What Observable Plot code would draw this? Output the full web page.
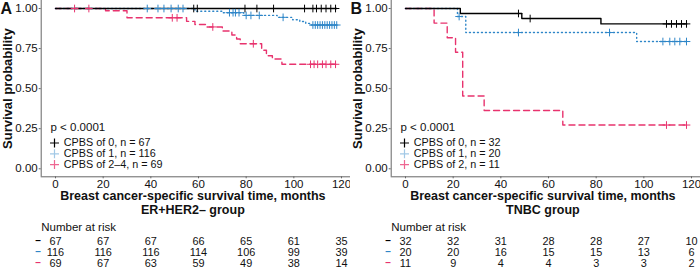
<!DOCTYPE html>
<html><head><meta charset="utf-8">
<script src="https://cdn.jsdelivr.net/npm/d3@7"></script>
<script src="https://cdn.jsdelivr.net/npm/@observablehq/plot@0.6"></script>
<style>
body{margin:0;background:#fff;font-family:"Liberation Sans",Arial,sans-serif;}
#wrap{display:flex;width:700px;height:268px;overflow:hidden;background:#fff}
.panel{width:350px;flex:0 0 350px}
.panel svg{display:block}
</style></head><body><div id="wrap"></div>
<script>
// ---- shared ticks ----
const xTicks = [0, 20, 40, 60, 80, 100, 120];
const yTicks = [0, 0.25, 0.5, 0.75, 1];
const riskTimes = [0, 20, 40, 60, 80, 100, 120];
const colors = ["#000000", "#2E86C8", "#E8336E"];
const dashes = [null, "1,3", "6,4"];

// ---- Panel A : ER+HER2- group ----
const labelsA = ["CPBS of 0, n = 67", "CPBS of 1, n = 116", "CPBS of 2–4, n = 69"];
const timeA0 = [0, 118];
const survA0 = [1, 1];
const censA0 = [58, 59.5, 79.5, 84.5, 91.5, 104.5, 108, 109.5, 111.5, 113.5, 115.5, 117.5];
const timeA1 = [0, 58.5, 70, 79, 93, 99.5, 102.5, 105, 107, 118];
const survA1 = [1, 0.983, 0.974, 0.957, 0.945, 0.93, 0.919, 0.907, 0.897, 0.897];
const censA1 = [38.5, 43, 45.5, 48.5, 51.5, 53.5, 73, 74.5, 75.5, 77, 80, 82, 85.5, 95.5, 108, 109, 110, 111, 112, 113, 114, 115, 116, 117, 118];
const timeA2 = [0, 21, 30, 55, 58.5, 63, 70, 74, 76, 77.5, 86.5, 88.5, 91, 95, 118];
const survA2 = [1, 0.986, 0.942, 0.92, 0.9, 0.885, 0.86, 0.835, 0.81, 0.78, 0.74, 0.705, 0.685, 0.652, 0.652];
const censA2 = [8, 14, 49, 51, 66, 83, 107, 108.5, 110, 112, 113.5, 115.5, 117.5];
const riskA0 = [67, 67, 67, 66, 65, 61, 35];
const riskA1 = [116, 116, 116, 114, 106, 99, 39];
const riskA2 = [69, 67, 63, 59, 49, 38, 14];

// ---- Panel B : TNBC group ----
const labelsB = ["CPBS of 0, n = 32", "CPBS of 1, n = 20", "CPBS of 2, n = 11"];
const timeB0 = [0, 23, 48.8, 82, 118];
const survB0 = [1, 0.969, 0.9375, 0.904, 0.904];
const censB0 = [47.4, 52.3, 109.5, 111.6, 113.7, 115.8, 117.9];
const timeB1 = [0, 21.8, 25.3, 97, 118];
const survB1 = [1, 0.95, 0.85, 0.794, 0.794];
const censB1 = [22.5, 47.4, 85.6, 108, 110.9, 113, 115.1, 117.9];
const timeB2 = [0, 12, 17.5, 21, 24, 33, 66, 118];
const survB2 = [1, 0.909, 0.818, 0.727, 0.4545, 0.364, 0.273, 0.273];
const censB2 = [109.5, 117.9];
const riskB0 = [32, 32, 31, 28, 28, 27, 10];
const riskB1 = [20, 20, 16, 15, 15, 13, 6];
const riskB2 = [11, 9, 4, 4, 3, 3, 2];

const xDomain = [-6, 126];
const xRange = [40.7, 355.3];
const yDomain = [-0.05, 1.05];
const FS = 11.5;
const LFS = 10.8;

function stepAt(times, surv, t) {
  let s = surv[0];
  for (let i = 0; i < times.length; i++) if (times[i] <= t) s = surv[i];
  return s;
}

function kmPlot(p) {
  const marks = [];
  const yMid = (yDomain[0] + yDomain[1]) / 2;
  marks.push(Plot.ruleX([xDomain[0]], {stroke: "#666", strokeWidth: 1}));
  marks.push(Plot.ruleY([yDomain[0]], {stroke: "#666", strokeWidth: 1}));
  marks.push(Plot.axisY(yTicks, {tickFormat: d3.format(".2f"), tickSize: 2, tickPadding: 1.5, stroke: "#666", fill: "#111", fontSize: FS, label: null}));
  marks.push(Plot.axisX(xTicks, {tickSize: 2, tickPadding: 1, stroke: "#666", fill: "#111", fontSize: FS, label: null}));
  for (let k = 2; k >= 0; k--) {
    const s = p.series[k];
    const pts = s.times.map((t, i) => ({t, s: s.surv[i]}));
    marks.push(Plot.line(pts, {x: "t", y: "s", curve: "step-after", stroke: colors[k], strokeWidth: 1.4, strokeDasharray: dashes[k]}));
  }
  for (let k = 2; k >= 0; k--) {
    const s = p.series[k];
    const c = s.cens.map(t => ({t, s: stepAt(s.times, s.surv, t)}));
    marks.push(Plot.dot(c, {x: "t", y: "s", symbol: "plus", r: 2.6, stroke: colors[k], strokeWidth: 1}));
  }
  // p value & legend
  marks.push(Plot.text([p.pval], {frameAnchor: "bottom-left", dx: 9.3, dy: -49.3, textAnchor: "start", lineAnchor: "middle", fontSize: FS, fill: "#111"}));
  p.labels.forEach((lab, k) => {
    const dy = -33.8 + 10.8 * k;
    marks.push(Plot.dot([lab], {frameAnchor: "bottom-left", dx: 13.3, dy, symbol: "plus", r: 3, stroke: colors[k], strokeOpacity: k === 1 ? 0.45 : (k === 2 ? 0.75 : 1), strokeWidth: 1.2}));
    marks.push(Plot.text([lab], {frameAnchor: "bottom-left", dx: 22.6, dy, textAnchor: "start", lineAnchor: "middle", fontSize: LFS, fill: "#111"}));
  });
  // titles
  marks.push(Plot.text(["Breast cancer-specific survival time, months"], {frameAnchor: "bottom", dx: -3, dy: 19.3, lineAnchor: "middle", fontSize: 12.5, fontWeight: "bold"}));
  marks.push(Plot.text([p.group], {frameAnchor: "bottom", dx: -3, dy: 32.9, lineAnchor: "middle", fontSize: 12.5, fontWeight: "bold"}));
  marks.push(Plot.text(["Survival probability"], {x: () => xDomain[0], y: () => yMid, dx: -33, rotate: -90, textAnchor: "middle", lineAnchor: "middle", fontSize: 13, fontWeight: "bold"}));
  marks.push(Plot.text([p.letter], {x: () => xDomain[0], y: () => yDomain[1], dx: -40.7, dy: 2.5, textAnchor: "start", lineAnchor: "top", fontSize: 16, fontWeight: "bold"}));
  return Plot.plot({
    width: 350, height: 219,
    marginLeft: 40.7, marginRight: 0, marginTop: 0, marginBottom: 42.7,
    style: {fontFamily: "'Liberation Sans', Arial, sans-serif", fontSize: FS + "px", color: "#111", background: "#fff"},
    x: {domain: xDomain, range: xRange},
    y: {domain: yDomain},
    marks
  });
}

function riskPlot(p) {
  const rows = [];
  p.risk.forEach((arr, k) => arr.forEach((n, j) => rows.push({t: riskTimes[j], row: String(k), n})));
  const marks = [];
  marks.push(Plot.text(rows, {x: "t", y: "row", text: d => String(d.n), fontSize: 10.9, fill: "#111", lineAnchor: "middle"}));
  p.risk.forEach((arr, k) => {
    marks.push(Plot.text([String(k)], {y: d => d, frameAnchor: "left", dx: -6, text: () => "–", fill: colors[k], fontSize: 10, fontWeight: "bold", lineAnchor: "middle"}));
  });
  marks.push(Plot.text(["Number at risk"], {frameAnchor: "top-left", dy: -8.5, textAnchor: "start", lineAnchor: "middle", fontSize: FS, fill: "#111"}));
  return Plot.plot({
    width: 350, height: 49,
    marginLeft: 40.7, marginRight: 0, marginTop: 16, marginBottom: 0,
    style: {fontFamily: "'Liberation Sans', Arial, sans-serif", fontSize: FS + "px", color: "#111", background: "#fff"},
    x: {domain: xDomain, range: xRange, axis: null},
    y: {type: "band", domain: ["0", "1", "2"], padding: 0, axis: null},
    marks
  });
}

const panels = [
  {letter: "A", group: "ER+HER2– group", pval: "p < 0.0001", labels: labelsA,
   series: [{times: timeA0, surv: survA0, cens: censA0}, {times: timeA1, surv: survA1, cens: censA1}, {times: timeA2, surv: survA2, cens: censA2}],
   risk: [riskA0, riskA1, riskA2]},
  {letter: "B", group: "TNBC group", pval: "p < 0.0001", labels: labelsB,
   series: [{times: timeB0, surv: survB0, cens: censB0}, {times: timeB1, surv: survB1, cens: censB1}, {times: timeB2, surv: survB2, cens: censB2}],
   risk: [riskB0, riskB1, riskB2]}
];

const wrap = document.getElementById("wrap");
panels.forEach(p => {
  const div = document.createElement("div");
  div.className = "panel";
  div.appendChild(kmPlot(p));
  div.appendChild(riskPlot(p));
  wrap.appendChild(div);
});
</script></body></html>
